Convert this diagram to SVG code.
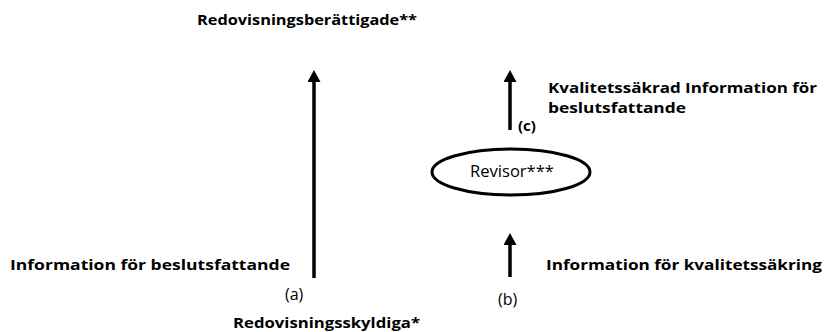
<svg xmlns="http://www.w3.org/2000/svg" width="827" height="332" viewBox="0 0 827 332">
<style>
.t{font-family:"Open Sans","Liberation Sans",sans-serif;font-weight:bold;font-size:15px;fill:#000}
.r{font-family:"Open Sans","Liberation Sans",sans-serif;font-size:15px;fill:#000}
.c{stroke:#000;stroke-width:3.5;fill:none}
</style>
<defs>
<marker id="ah" markerWidth="13" markerHeight="13" refX="2" refY="6.5" orient="auto" markerUnits="userSpaceOnUse" viewBox="0 0 13 13">
<path d="M0,0 L12,6.5 L0,13 Z" fill="#000"/>
</marker>
</defs>
<rect width="827" height="332" fill="#fff"/>
<g id="connectors">
<line class="c" x1="314" y1="278" x2="314" y2="80" marker-end="url(#ah)"/>
<line class="c" x1="510" y1="130" x2="510" y2="80" marker-end="url(#ah)"/>
<line class="c" x1="510" y1="277" x2="510" y2="243" marker-end="url(#ah)"/>
</g>
<g id="redovisningsberattigade">
<text class="t" x="197" y="25" textLength="220" lengthAdjust="spacingAndGlyphs">Redovisningsberättigade**</text>
</g>
<g id="revisor">
<ellipse cx="511" cy="172" rx="79" ry="23" fill="#fff" stroke="#000" stroke-width="3"/>
<text class="r" x="512" y="177" text-anchor="middle" style="font-size:16px" textLength="84" lengthAdjust="spacingAndGlyphs">Revisor***</text>
</g>
<g id="redovisningsskyldiga">
<text class="t" x="233" y="328" textLength="187" lengthAdjust="spacingAndGlyphs">Redovisningsskyldiga*</text>
</g>
<g id="labels">
<text class="t" x="548" y="93" textLength="269" lengthAdjust="spacingAndGlyphs">Kvalitetssäkrad Information för</text>
<text class="t" x="548" y="113" textLength="138" lengthAdjust="spacingAndGlyphs">beslutsfattande</text>
<text class="t" x="518" y="131">(c)</text>
<text class="t" x="10" y="270" textLength="280" lengthAdjust="spacingAndGlyphs">Information för beslutsfattande</text>
<text class="t" x="546" y="270" textLength="276" lengthAdjust="spacingAndGlyphs">Information för kvalitetssäkring</text>
<text class="r" x="285" y="300" style="font-size:16px">(a)</text>
<text class="r" x="498" y="305" style="font-size:16px">(b)</text>
</g>
</svg>
